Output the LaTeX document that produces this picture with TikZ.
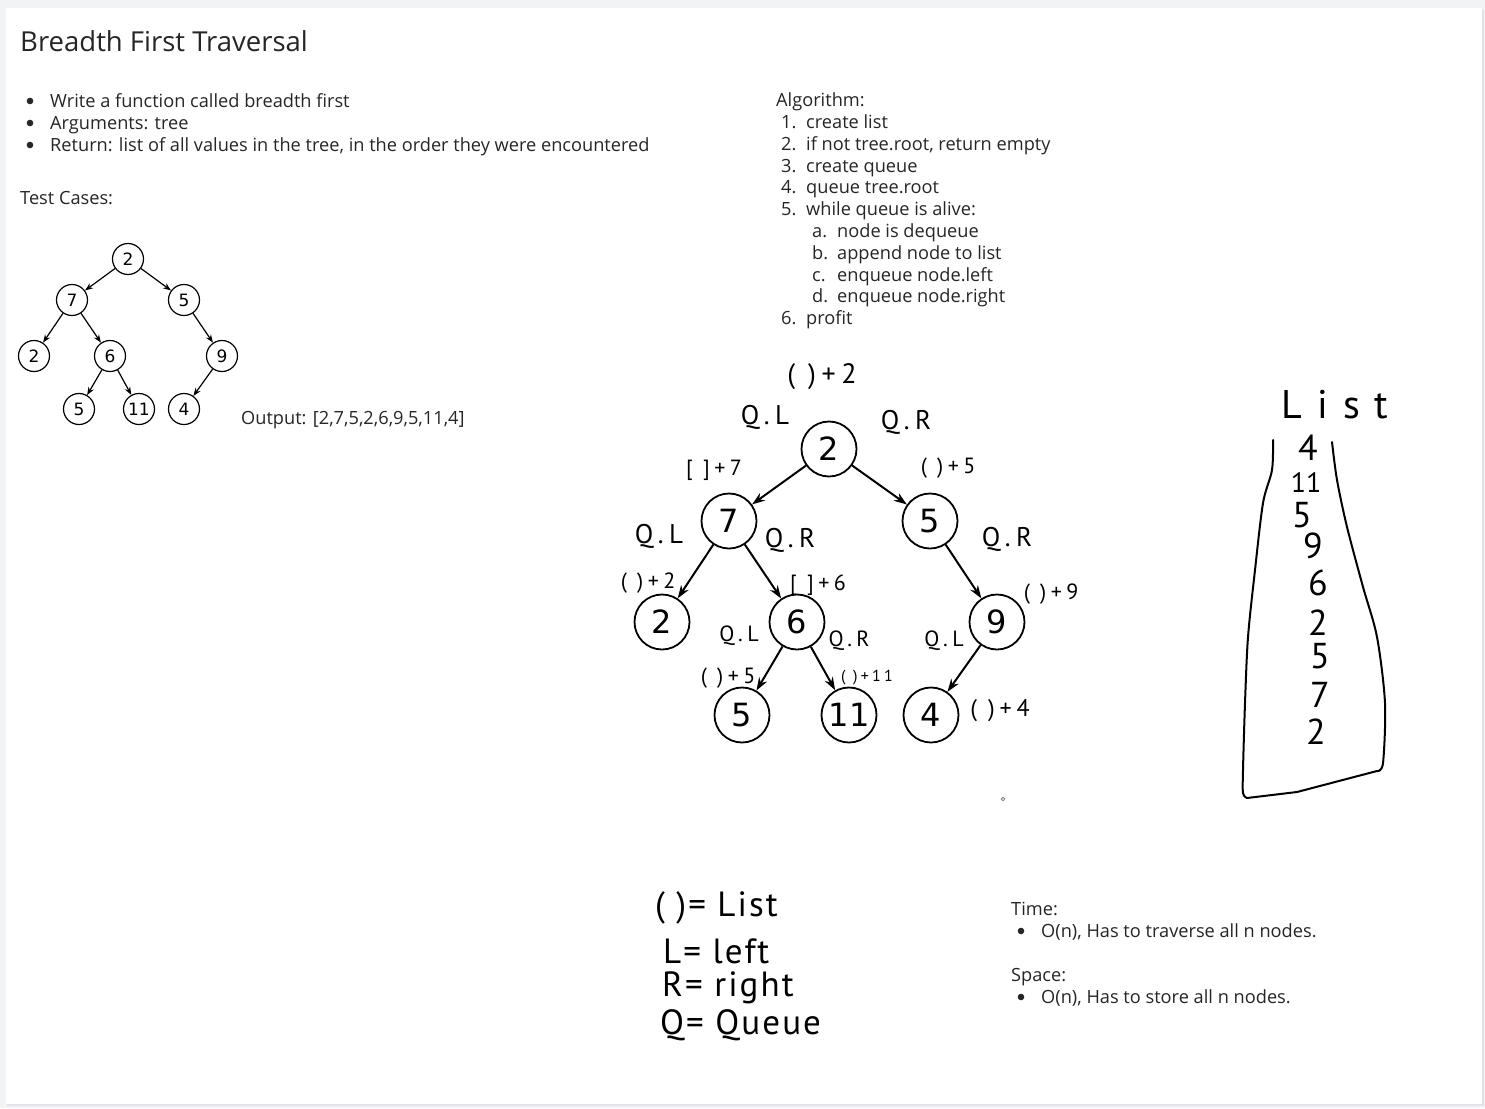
\documentclass[tikz,border=0pt]{standalone}
\usepackage{fontspec}
\setmainfont{Open Sans}
\newfontfamily\treefam{DejaVu Sans}
\newfontfamily\handfam[LetterSpace=20]{PT Sans}
\newfontfamily\legfam[LetterSpace=6]{PT Sans}
\newfontfamily\handplain{PT Sans}
\usetikzlibrary{arrows.meta}
\definecolor{bggray}{HTML}{F2F3F5}
\definecolor{cardedge}{HTML}{E2E3E6}
\definecolor{ink}{HTML}{262626}
\newcommand\titlefnt{\fontsize{27.5}{30}\selectfont}
\newcommand\bodyfnt{\fontsize{18.2}{21}\selectfont}
\newcommand\streefnt{\treefam\fontsize{17}{17}\selectfont}
\newcommand\btreefnt{\treefam\fontsize{32}{32}\selectfont}
\newcommand\handfnt{\handfam\fontsize{27}{27}\selectfont}
\newcommand\handsmall{\handfam\fontsize{22}{22}\selectfont}
\newcommand\handleg{\legfam\fontsize{35}{35}\selectfont}
\newcommand\handdigit{\handplain\fontsize{36}{36}\selectfont}
\tikzset{
  bodytext/.style={anchor=base west, inner sep=0pt, text=ink, font=\bodyfnt},
  stree/.style={circle, draw, line width=1.2pt, minimum size=31pt, inner sep=0pt, font=\streefnt},
  btree/.style={circle, draw, line width=1.8pt, minimum size=55pt, inner sep=0pt, font=\btreefnt},
  sarrow/.style={-{Stealth[length=8pt,width=6pt]}, line width=1.2pt},
  barrow/.style={-{Stealth[length=13pt,width=9pt]}, line width=2pt},
  hand/.style={inner sep=0pt, font=\handfnt},
  handS/.style={inner sep=0pt, font=\handsmall},
  handL/.style={inner sep=0pt, anchor=west, font=\handleg},
  handD/.style={inner sep=0pt, font=\handdigit},
}
\begin{document}
\begin{tikzpicture}[x=1pt,y=-1pt]
\useasboundingbox (0,0) rectangle (1485,1108);
\fill[bggray] (0,0) rectangle (1485,1108);
\fill[cardedge] (7,9) rectangle (1484,1106);
\fill[white] (6,8) rectangle (1482,1104);

% header text
\node[bodytext, font=\titlefnt] (title) at (20,52) {Breadth First Traversal};
\fill[ink] (30,101) circle (3.3pt);
\fill[ink] (30,123) circle (3.3pt);
\fill[ink] (30,145) circle (3.3pt);
\node[bodytext] (b1) at (50,107) {Write a function called breadth first};
\node[bodytext] (b2) at (50,129) {Arguments: tree};
\node[bodytext] (b3) at (50,151) {Return: list of all values in the tree, in the order they were encountered};
\node[bodytext] (tc) at (20,204) {Test Cases:};

% algorithm
\node[bodytext] (alg) at (776,106) {Algorithm:};
\node[bodytext] (a1n) at (781,128) {1.};  \node[bodytext] (a1) at (806,128) {create list};
\node[bodytext] (a2n) at (781,150) {2.};  \node[bodytext] (a2) at (806,150) {if not tree.root, return empty};
\node[bodytext] (a3n) at (781,172) {3.};  \node[bodytext] (a3) at (806,172) {create queue};
\node[bodytext] (a4n) at (781,193) {4.};  \node[bodytext] (a4) at (806,193) {queue tree.root};
\node[bodytext] (a5n) at (781,215) {5.};  \node[bodytext] (a5) at (806,215) {while queue is alive:};
\node[bodytext] (a5an) at (812,237) {a.}; \node[bodytext] (a5a) at (837,237) {node is dequeue};
\node[bodytext] (a5bn) at (812,259) {b.}; \node[bodytext] (a5b) at (837,259) {append node to list};
\node[bodytext] (a5cn) at (812,281) {c.}; \node[bodytext] (a5c) at (837,281) {enqueue node.left};
\node[bodytext] (a5dn) at (812,302) {d.}; \node[bodytext] (a5d) at (837,302) {enqueue node.right};
\node[bodytext] (a6n) at (781,324) {6.};  \node[bodytext] (a6) at (806,324) {profit};

% small tree
\node[stree] (s2) at (128,259) {2};
\node[stree] (s7) at (72,300) {7};
\node[stree] (s5) at (184,300) {5};
\node[stree] (s2b) at (34,356) {2};
\node[stree] (s6) at (110,356) {6};
\node[stree] (s9) at (222,356) {9};
\node[stree] (s5b) at (79,409) {5};
\node[stree] (s11) at (139,409) {11};
\node[stree] (s4) at (184,409) {4};
\draw[sarrow] (s2) -- (s7);
\draw[sarrow] (s2) -- (s5);
\draw[sarrow] (s7) -- (s2b);
\draw[sarrow] (s7) -- (s6);
\draw[sarrow] (s5) -- (s9);
\draw[sarrow] (s6) -- (s5b);
\draw[sarrow] (s6) -- (s11);
\draw[sarrow] (s9) -- (s4);
\node[bodytext] (out) at (241,424) {Output: [2,7,5,2,6,9,5,11,4]};

% big tree
\node[btree] (r2) at (829,449) {2};
\node[btree] (n7) at (729,521) {7};
\node[btree] (n5) at (930,521) {5};
\node[btree] (n2) at (662,622) {2};
\node[btree] (n6) at (797,622) {6};
\node[btree] (n9) at (997,622) {9};
\node[btree] (m5) at (742,715) {5};
\node[btree] (m11) at (849,715) {11};
\node[btree] (m4) at (931,715) {4};
\draw[barrow] (r2) -- (n7);
\draw[barrow] (r2) -- (n5);
\draw[barrow] (n7) -- (n2);
\draw[barrow] (n7) -- (n6);
\draw[barrow] (n5) -- (n9);
\draw[barrow] (n6) -- (m5);
\draw[barrow] (n6) -- (m11);
\draw[barrow] (n9) -- (m4);

% handwritten annotations
\node[hand, font=\handfam\fontsize{28}{28}\selectfont] (h1) at (822,377) {( )+2};
\node[hand] (h2) at (765,417) {Q.L};
\node[hand] (h3) at (906,422) {Q.R};
\node[handS] (h4) at (714,470) {[ ]+7};
\node[handS] (h5) at (948,468) {( )+5};
\node[hand] (h6) at (659,536) {Q.L};
\node[hand] (h7) at (790,540) {Q.R};
\node[hand] (h8) at (1007,539) {Q.R};
\node[handS] (h9) at (648,583) {( )+2};
\node[handS] (h10) at (818,585) {[ ]+6};
\node[handS] (h11) at (1051,594) {( )+9};
\node[handS] (h12) at (739,636) {Q.L};
\node[handS] (h13) at (849,641) {Q.R};
\node[handS] (h14) at (944,641) {Q.L};
\node[handS] (h15) at (728,678) {( )+5};
\node[handS, font=\handfam\fontsize{16}{16}\selectfont] (h16) at (867,678) {( )+11};
\node[handS, font=\handfam\fontsize{24}{24}\selectfont] (h17) at (1000,711) {( )+4};

% legend
\node[handL] (lg1) at (655,908) {( )= List};
\node[handL] (lg2) at (663,951) {L= left};
\node[handL] (lg3) at (662,988) {R= right};
\node[handL] (lg4) at (660,1025) {Q= Queue};

% list
\node[inner sep=0pt, font=\handplain\fontsize{40}{40}\selectfont] (lst) at (1335,405) {L\hspace{15pt}i\hspace{15pt}s\hspace{15pt}t};
\node[handD] (q1) at (1308,448) {4};
\node[handD, font=\handplain\fontsize{28}{28}\selectfont] (q2) at (1306,483) {11};
\node[handD] (q3) at (1302,515) {5};
\node[handD] (q4) at (1313,546) {9};
\node[handD] (q5) at (1318,583) {6};
\node[handD] (q6) at (1318,623) {2};
\node[handD] (q7) at (1320,656) {5};
\node[handD] (q8) at (1320,695) {7};
\node[handD] (q9) at (1316,732) {2};
\draw[line width=2pt, line cap=round, line join=round] plot[smooth, tension=0.5] coordinates {
  (1273,440) (1272,470) (1263,503) (1255,570) (1248,637) (1245,703) (1243,770) (1243,793) (1247,798)}
  -- (1297,792) -- (1377,771)
  plot[smooth, tension=0.5] coordinates {(1377,771) (1383,763) (1385,703) (1377,637) (1363,587) (1347,527) (1337,480) (1332,442)};

% stray mark
\draw[gray, line width=0.8pt] (1003,799) circle (1.8pt);

% complexity
\node[bodytext] (tm) at (1011,915) {Time:};
\fill[ink] (1021,931) circle (3.3pt);
\node[bodytext] (tm1) at (1041,937) {O(n), Has to traverse all n nodes.};
\node[bodytext] (sp) at (1011,981) {Space:};
\fill[ink] (1021,997) circle (3.3pt);
\node[bodytext] (sp1) at (1041,1003) {O(n), Has to store all n nodes.};
\end{tikzpicture}
\end{document}
